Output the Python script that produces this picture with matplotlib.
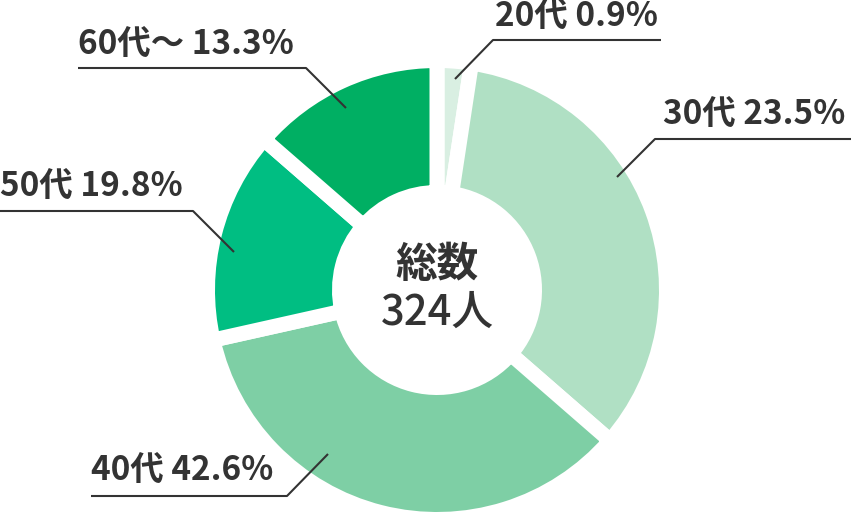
import matplotlib
matplotlib.use("Agg")
import matplotlib.pyplot as plt

plt.rcParams['font.family'] = ['Noto Sans CJK JP', 'DejaVu Sans']

# Data
categories = ["20代", "30代", "40代", "50代", "60代〜"]
label_pcts = [0.9, 23.5, 42.6, 19.8, 13.3]          # percentages printed in labels
slice_sizes = [2.4, 34.0, 35.1, 14.9, 13.6]          # angular sizes as drawn in the picture
colors = ["#D9EFE2", "#B0E0C4", "#7ECFA5", "#00BE82", "#00AF63"]
total_label = "総数"
total_value = "324人"

W, H = 851, 512
fig = plt.figure(figsize=(W / 100, H / 100), dpi=100)
ax = fig.add_axes([0, 0, 1, 1])

cx, cy = 437, H - 290
r_out, r_in = 222, 105
gap_px = 15
lw_pt = gap_px * 72 / 100

ax.pie(slice_sizes, colors=colors, startangle=90, counterclock=False,
       radius=r_out + gap_px / 2, center=(cx, cy),
       wedgeprops=dict(width=(r_out - r_in) + gap_px, edgecolor='white',
                       linewidth=lw_pt, joinstyle='miter'))
ax.set_xlim(0, W)
ax.set_ylim(0, H)
ax.set_aspect('equal')
ax.axis('off')

# label layout: (text_x, text_y_center, line points in pixel coords top-left origin)
layout = {
    "20代": (495, 16, [(661, 40), (493, 40), (455, 79)]),
    "30代": (663, 114, [(851, 139), (655, 139), (617, 177)]),
    "40代": (91, 470, [(91, 496), (287, 496), (328, 454)]),
    "50代": (0, 186, [(0, 211), (193, 211), (234, 252)]),
    "60代〜": (78, 44, [(78, 68), (306, 68), (346, 108)]),
}

txt_color = "#333333"
for cat, pct in zip(categories, label_pcts):
    tx, ty, pts = layout[cat]
    xs = [p[0] for p in pts]
    ys = [H - p[1] for p in pts]
    ax.plot(xs, ys, color=txt_color, lw=1.5, solid_capstyle='butt')
    ax.text(tx, H - ty, f"{cat} {pct:.1f}%", ha='left', va='center',
            fontsize=24, fontweight='bold', color=txt_color)

ax.text(cx, H - 265, total_label, ha='center', va='center', fontsize=30,
        fontweight='bold', color=txt_color)
ax.text(cx, H - 312, total_value, ha='center', va='center', fontsize=30,
        fontweight=500, color=txt_color)

fig.savefig("out.png", dpi=100)
